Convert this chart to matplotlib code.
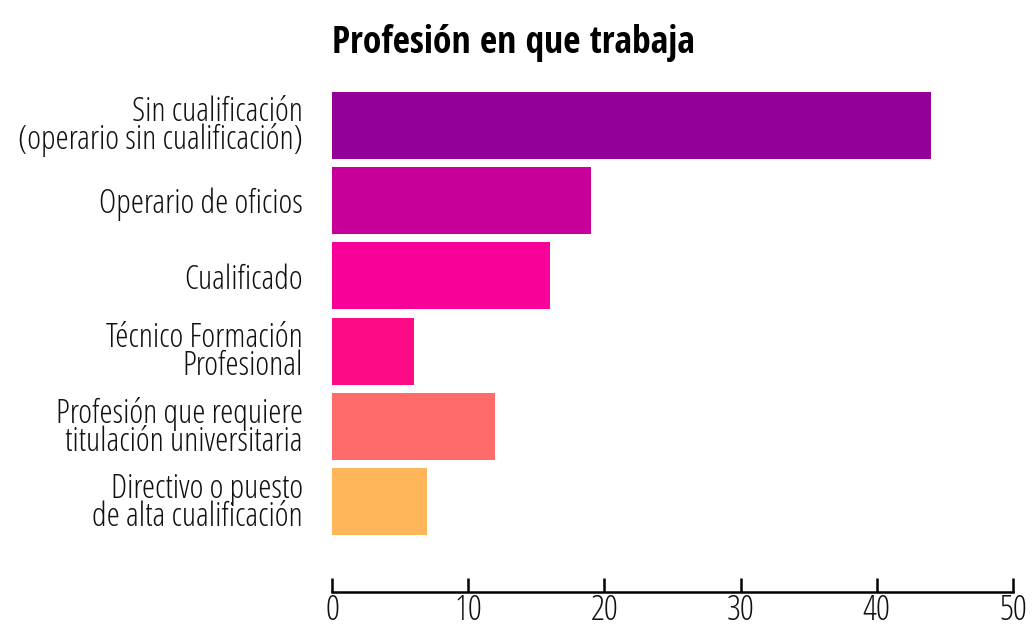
import matplotlib
matplotlib.use("Agg")
import matplotlib.pyplot as plt
from matplotlib import font_manager as fm

categorias = ["Sin cualificación\n(operario sin cualificación)",
              "Operario de oficios",
              "Cualificado",
              "Técnico Formación\nProfesional",
              "Profesión que requiere\ntitulación universitaria",
              "Directivo o puesto\nde alta cualificación"]
valores = [44, 19, 16, 6, 12, 7]
colores = ["#930099", "#c8009a", "#f8009a", "#ff0a85", "#ff6a6a", "#ffb55a"]
ticks = [0, 10, 20, 30, 40, 50]


def peso(w):
    if isinstance(w, str):
        return fm.weight_dict.get(w, 400)
    return w


def fuente(w, tam):
    # Open Sans Condensed si existe, si no otra condensada
    lista = fm.fontManager.ttflist
    cands = [f for f in lista if f.style == "normal" and "Open Sans" in f.name
             and (f.stretch == "condensed" or "Condensed" in f.name)]
    if not cands:
        cands = [f for f in lista if f.style == "normal" and f.name == "Encode Sans Condensed"]
    if not cands:
        return fm.FontProperties(family="DejaVu Sans", stretch="condensed", size=tam)
    f = min(cands, key=lambda c: abs(peso(c.weight) - w))
    return fm.FontProperties(fname=f.fname, size=tam)


fig = plt.figure(figsize=(10.33, 6.3), dpi=100)
ax = fig.add_axes([0.3214, 0.0603, 0.6592, 0.8064])

pos = list(range(len(valores)))
ax.barh(pos, valores, height=0.89, color=colores)
ax.set_ylim(6.2, -0.55)
ax.set_xlim(0, 50)
ax.set_yticks(pos)
ax.set_yticklabels(categorias, fontproperties=fuente(300, 24), linespacing=0.78, color="#111111")
ax.set_xticks(ticks)
ax.set_xticklabels([str(t) for t in ticks], fontproperties=fuente(300, 25), color="#111111")
ax.tick_params(axis="y", length=0, pad=21)
ax.tick_params(axis="x", direction="in", length=10, width=1.8, pad=1)
for s in ["top", "right", "left"]:
    ax.spines[s].set_visible(False)
ax.spines["bottom"].set_linewidth(1.8)
ax.set_title("Profesión en que trabaja", fontproperties=fuente(700, 27), loc="left", pad=22)

plt.savefig("out.png", dpi=100)
